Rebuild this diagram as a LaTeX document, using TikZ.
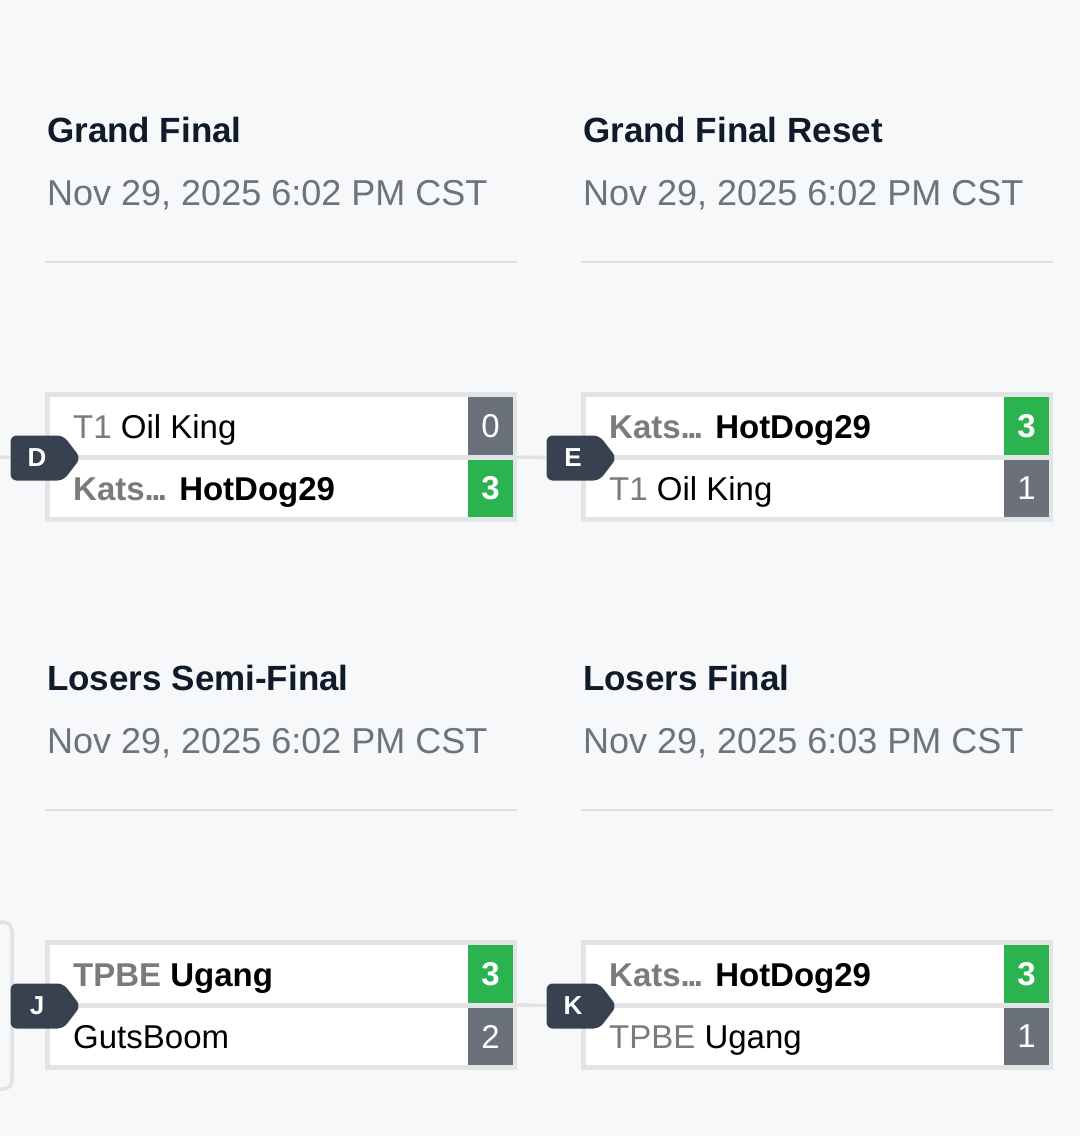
\documentclass[tikz,border=0pt]{standalone}
\usepackage{fontspec}
\setmainfont{Liberation Sans}
\usepackage{tikz}
\usetikzlibrary{shapes.symbols}
\usetikzlibrary{backgrounds}

\definecolor{pagebg}{HTML}{F7F8FA}
\definecolor{titleink}{HTML}{0F1A2A}
\definecolor{dategray}{HTML}{6C737D}
\definecolor{rulegray}{HTML}{DCDEE1}
\definecolor{boxline}{HTML}{E3E4E6}
\definecolor{scoregray}{HTML}{6A717B}
\definecolor{wingreen}{HTML}{2AB34E}
\definecolor{tagslate}{HTML}{384150}
\definecolor{teamgray}{HTML}{7B7B7B}
\definecolor{linkgray}{HTML}{E1E2E4}

% short bold ellipsis, as narrow as the one in the bracket
\newcommand{\cutoff}{.\kern-2.6pt.\kern-2.6pt.}

\tikzstyle{roundtitle} = [anchor=base west, inner sep=0pt, 
text=titleink, 
font=\bfseries\fontsize{35}{35}\selectfont]
\tikzstyle{rounddate} = [anchor=base west, inner sep=0pt, 
text=dategray, 
font=\fontsize{36}{36}\selectfont]
\tikzstyle{rulerline} = [draw=rulegray, line width=2.5pt]
\tikzstyle{matchbox} = [rectangle, 
draw=boxline, 
line width=4.5pt, 
fill=white, 
minimum width=467pt, 
minimum height=125pt, 
inner sep=0pt]
\tikzstyle{rowsep} = [draw=boxline, line width=5pt]
\tikzstyle{team} = [anchor=base west, inner sep=0pt, 
font=\fontsize{33}{33}\selectfont]
\tikzstyle{winteam} = [team, font=\bfseries\fontsize{33}{33}\selectfont]
\tikzstyle{score} = [rectangle, 
minimum width=45pt, 
minimum height=57pt, 
inner sep=0pt, 
text=white]
\tikzstyle{lose} = [score, fill=scoregray, font=\fontsize{33}{33}\selectfont]
\tikzstyle{win} = [score, fill=wingreen, font=\bfseries\fontsize{33}{33}\selectfont]
\tikzstyle{matchtag} = [signal, signal to=east, 
signal pointer angle=105, 
minimum width=70pt, 
minimum height=45pt, 
inner sep=0pt, 
rounded corners=6pt, 
fill=tagslate, 
text=white, 
font=\bfseries\fontsize{26}{26}\selectfont]
\tikzstyle{link} = [draw=linkgray, line width=3.5pt]

\begin{document}
\begin{tikzpicture} [x=1pt, y=-1pt]
    \begin{pgfonlayer}{background}
    \fill [pagebg] (0,0) rectangle (1080,1136);
    \end{pgfonlayer}
    \useasboundingbox (0,0) rectangle (1080,1136);

    % grand final
    \node (gf title) [roundtitle] at (47,142) {Grand Final};
    \node (gf date) [rounddate] at (47,205) {Nov 29, 2025 6:02 PM CST};
    \draw [rulerline] (45,262) -- (517,262);
    \node (gf box) [matchbox] at (281,457) {};
    \draw [rowsep] (gf box.west) -- (gf box.east);
    \node (gf s1) [lose, minimum height=58pt] at (490.5,426) {0};
    \node (gf s2) [win] at (490.5,488.5) {3};
    \node (gf t1) [team] at (73,438) {{\color{teamgray}T1} Oil King};
    \node (gf t2) [winteam] at (73,500) {{\color{teamgray}Kats\cutoff} HotDog29};
    \node (gf tag) [matchtag] at (37,458) {D};
    \coordinate (gf in) at (0,457);

    % grand final reset
    \node (rs title) [roundtitle] at (583,142) {Grand Final Reset};
    \node (rs date) [rounddate] at (583,205) {Nov 29, 2025 6:02 PM CST};
    \draw [rulerline] (581,262) -- (1053,262);
    \node (rs box) [matchbox] at (817,457) {};
    \draw [rowsep] (rs box.west) -- (rs box.east);
    \node (rs s1) [win, minimum height=58pt] at (1026.5,426) {3};
    \node (rs s2) [lose] at (1026.5,488.5) {1};
    \node (rs t1) [winteam] at (609,438) {{\color{teamgray}Kats\cutoff} HotDog29};
    \node (rs t2) [team] at (609,500) {{\color{teamgray}T1} Oil King};
    \node (rs tag) [matchtag] at (573,458) {E};

    % losers semi-final
    \node (ls title) [roundtitle] at (47,690) {Losers Semi-Final};
    \node (ls date) [rounddate] at (47,753) {Nov 29, 2025 6:02 PM CST};
    \draw [rulerline] (45,810) -- (517,810);
    \node (ls box) [matchbox] at (281,1005) {};
    \draw [rowsep] (ls box.west) -- (ls box.east);
    \node (ls s1) [win, minimum height=58pt] at (490.5,974) {3};
    \node (ls s2) [lose] at (490.5,1036.5) {2};
    \node (ls t1) [winteam] at (73,986) {{\color{teamgray}TPBE} Ugang};
    \node (ls t2) [team] at (73,1048) {GutsBoom};
    \node (ls tag) [matchtag] at (37,1006) {J};
    \coordinate (ls top) at (0,922);
    \coordinate (ls bend) at (12,1005);
    \coordinate (ls bot) at (0,1089);

    % losers final
    \node (lf title) [roundtitle] at (583,690) {Losers Final};
    \node (lf date) [rounddate] at (583,753) {Nov 29, 2025 6:03 PM CST};
    \draw [rulerline] (581,810) -- (1053,810);
    \node (lf box) [matchbox] at (817,1005) {};
    \draw [rowsep] (lf box.west) -- (lf box.east);
    \node (lf s1) [win, minimum height=58pt] at (1026.5,974) {3};
    \node (lf s2) [lose] at (1026.5,1036.5) {1};
    \node (lf t1) [winteam] at (609,986) {{\color{teamgray}Kats\cutoff} HotDog29};
    \node (lf t2) [team] at (609,1048) {{\color{teamgray}TPBE} Ugang};
    \node (lf tag) [matchtag] at (573,1006) {K};

    \begin{pgfonlayer}{background}
    \draw [link] (gf in) -- (gf tag);
    \draw [link] (gf box.east) -- (rs tag);
    \draw [link, rounded corners=9pt] (ls top) -| (ls bend) |- (ls bot);
    \draw [link] (ls box.east) -- (lf tag);
    \end{pgfonlayer}

\end{tikzpicture}
\end{document}
